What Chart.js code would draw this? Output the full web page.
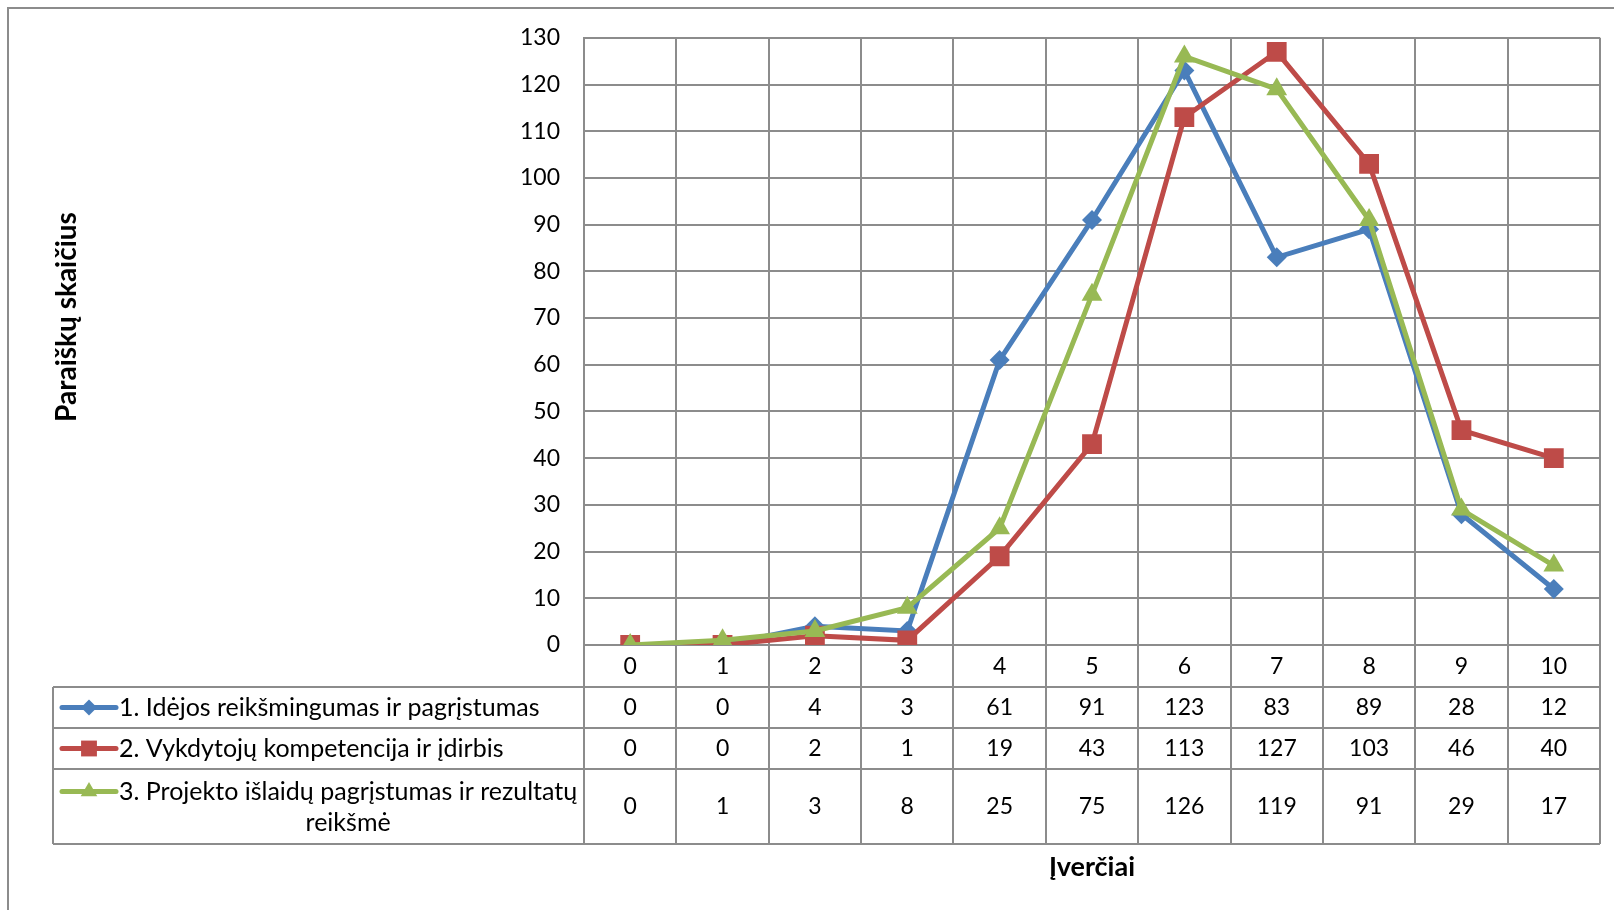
<!DOCTYPE html>
<html>
<head>
<meta charset="utf-8">
<script src="https://cdn.jsdelivr.net/npm/chart.js@4.4.1/dist/chart.umd.min.js"></script>
<style>
  html, body { margin: 0; padding: 0; background: #fff; }
  canvas { display: block; }
</style>
</head>
<body>
<canvas id="grafikas" width="1614" height="910"></canvas>
<script>
// duomenys
const ivertiai = ['0', '1', '2', '3', '4', '5', '6', '7', '8', '9', '10'];
const idejosReiksmingumas = [0, 0, 4, 3, 61, 91, 123, 83, 89, 28, 12];
const vykdytojuKompetencija = [0, 0, 2, 1, 19, 43, 113, 127, 103, 46, 40];
const islaiduPagristumas = [0, 1, 3, 8, 25, 75, 126, 119, 91, 29, 17];
const serijuPavadinimai = [
  ['1. Idėjos reikšmingumas ir pagrįstumas'],
  ['2. Vykdytojų kompetencija ir įdirbis'],
  ['3. Projekto išlaidų pagrįstumas ir rezultatų', 'reikšmė']
];
const yMin = 0, yMax = 130, yZingsnis = 10;
const yPavadinimas = 'Paraiškų skaičius';
const xPavadinimas = 'Įverčiai';

const SRIFTAS = 'Lato, "Open Sans", sans-serif';
const TINKLAS = '#8c8c8c';
const spalvos = ['#4a7ebb', '#be4b48', '#98b954'];
const zymekliai = [
  { pointStyle: 'rectRot', radius: 10 },
  { pointStyle: 'rect', radius: 14 },
  { pointStyle: 'triangle', radius: 12 }
];

// lentelės išdėstymas (px)
const lentelesKaire = 53;
const eilutes = [687, 728, 769, 844];

const lentele = {
  id: 'lentele',
  afterDraw(chart) {
    const ctx = chart.ctx;
    const area = chart.chartArea;
    const x = chart.scales.x;
    const zingsnis = x.getPixelForValue(1) - x.getPixelForValue(0);

    ctx.save();
    ctx.strokeStyle = TINKLAS;
    ctx.lineWidth = 2;
    ctx.beginPath();
    // rėmelis
    ctx.moveTo(8, 910); ctx.lineTo(8, 8); ctx.lineTo(1614, 8);
    // stulpelių ribos
    for (let i = 0; i <= ivertiai.length; i++) {
      const px = Math.round(x.getPixelForValue(0) - zingsnis / 2 + i * zingsnis);
      ctx.moveTo(px, area.bottom); ctx.lineTo(px, eilutes[3]);
    }
    ctx.moveTo(lentelesKaire, eilutes[0]); ctx.lineTo(lentelesKaire, eilutes[3]);
    eilutes.forEach(y => {
      ctx.moveTo(lentelesKaire, y); ctx.lineTo(Math.round(area.right), y);
    });
    ctx.stroke();

    // reikšmės
    ctx.fillStyle = '#000';
    ctx.font = '23px ' + SRIFTAS;
    ctx.textBaseline = 'middle';
    ctx.textAlign = 'center';
    const serijuDuomenys = [idejosReiksmingumas, vykdytojuKompetencija, islaiduPagristumas];
    serijuDuomenys.forEach((reiksmes, r) => {
      const yc = (eilutes[r] + eilutes[r + 1]) / 2;
      reiksmes.forEach((v, i) => ctx.fillText(String(v), x.getPixelForValue(i), yc));
    });

    // legendos ženklai ir pavadinimai
    ctx.font = '25px ' + SRIFTAS;
    serijuPavadinimai.forEach((eil, r) => {
      const yc = (eilutes[r] + eilutes[r + 1]) / 2;
      const y1 = eil.length > 1 ? yc - 15 : yc;
      ctx.strokeStyle = spalvos[r];
      ctx.lineWidth = 5;
      ctx.lineCap = 'round';
      ctx.beginPath();
      ctx.moveTo(62, y1); ctx.lineTo(116, y1);
      ctx.stroke();
      ctx.fillStyle = spalvos[r];
      Chart.helpers.drawPoint(ctx, {
        pointStyle: zymekliai[r].pointStyle,
        radius: zymekliai[r].radius * 0.8,
        rotation: 0,
        borderWidth: 0
      }, 89, y1);
      ctx.fillStyle = '#000';
      ctx.textAlign = 'left';
      ctx.fillText(eil[0], 119, y1);
      if (eil.length > 1) {
        const w = ctx.measureText(eil[0]).width;
        ctx.textAlign = 'center';
        ctx.fillText(eil[1], 119 + w / 2, y1 + 31);
      }
    });

    // ašių pavadinimai
    ctx.font = 'bold 27px ' + SRIFTAS;
    ctx.textAlign = 'center';
    ctx.fillText(xPavadinimas, 1092, 867);
    ctx.font = 'bold 28px ' + SRIFTAS;
    ctx.translate(67, 317);
    ctx.rotate(-Math.PI / 2);
    ctx.fillText(yPavadinimas, 0, 0);
    ctx.restore();
  }
};

const serija = (duom, i) => ({
  label: serijuPavadinimai[i].join(' '),
  data: duom,
  borderColor: spalvos[i],
  backgroundColor: spalvos[i],
  borderWidth: 5,
  tension: 0,
  pointStyle: zymekliai[i].pointStyle,
  pointRadius: zymekliai[i].radius,
  pointBorderWidth: 0,
  pointBackgroundColor: spalvos[i],
  order: 2 - i
});

new Chart(document.getElementById('grafikas'), {
  type: 'line',
  data: {
    labels: ivertiai,
    datasets: [
      serija(idejosReiksmingumas, 0),
      serija(vykdytojuKompetencija, 1),
      serija(islaiduPagristumas, 2)
    ]
  },
  options: {
    responsive: false,
    animation: false,
    events: [],
    layout: { padding: { left: 0, top: 36, right: 12, bottom: 0 } },
    plugins: {
      legend: { display: false },
      title: { display: false },
      tooltip: { enabled: false }
    },
    scales: {
      x: {
        offset: true,
        afterFit(scale) { scale.height = 910 - 645; },
        grid: { offset: true, color: TINKLAS, lineWidth: 2, drawTicks: false },
        border: { color: TINKLAS, width: 2 },
        ticks: { color: '#000', font: { family: SRIFTAS, size: 23 }, padding: 8 }
      },
      y: {
        min: yMin,
        max: yMax,
        afterFit(scale) { scale.width = 584; },
        grid: { color: TINKLAS, lineWidth: 2, drawTicks: false },
        border: { color: TINKLAS, width: 2 },
        ticks: { stepSize: yZingsnis, color: '#000', font: { family: SRIFTAS, size: 23 }, padding: 24 }
      }
    }
  },
  plugins: [lentele]
});
</script>
</body>
</html>
